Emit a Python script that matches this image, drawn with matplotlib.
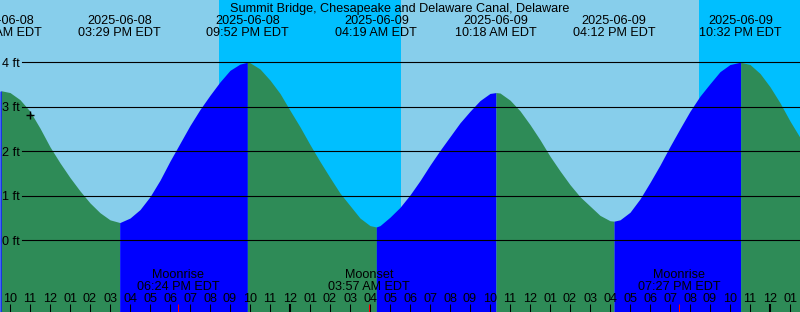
import matplotlib
matplotlib.use("Agg")
import matplotlib.pyplot as plt
import matplotlib.dates as mdates
import pandas as pd

plt.rcParams['font.family'] = ['Liberation Sans', 'DejaVu Sans']
plt.rcParams['font.size'] = 9.1

station = "Summit Bridge, Chesapeake and Delaware Canal, Delaware"

# high / low tides (ft)
tide_times = ["2025-06-08 09:34", "2025-06-08 15:29", "2025-06-08 21:52",
              "2025-06-09 04:19", "2025-06-09 10:18", "2025-06-09 16:12",
              "2025-06-09 22:32"]
tide_heights = [3.36, 0.40, 4.00, 0.30, 3.32, 0.43, 4.00]

# level every half hour from 10 AM on 06-08
reading_start = "2025-06-08 10:00"
reading_heights = [
    3.32, 3.16, 2.90, 2.52, 2.10, 1.74, 1.41, 1.11, 0.84, 0.62,
    0.46, 0.40, 0.50, 0.69, 0.98, 1.35, 1.78, 2.18, 2.58, 2.94,
    3.26, 3.56, 3.82, 3.96, 3.99, 3.85, 3.60, 3.30, 2.92, 2.55,
    2.15, 1.77, 1.41, 1.06, 0.78, 0.50, 0.33, 0.33, 0.52, 0.74,
    1.02, 1.34, 1.69, 2.02, 2.33, 2.64, 2.90, 3.14, 3.30, 3.31,
    3.15, 2.91, 2.60, 2.26, 1.89, 1.56, 1.25, 0.98, 0.77, 0.56,
    0.44, 0.46, 0.63, 0.93, 1.30, 1.69, 2.11, 2.51, 2.90, 3.24,
    3.52, 3.79, 3.95, 4.00, 3.95, 3.75, 3.45, 3.09, 2.68]

# window edges
edge_times = ["2025-06-08 09:30", "2025-06-10 01:30"]
edge_heights = [3.35, 2.31]

night_start = ["2025-06-08 20:28", "2025-06-09 20:28"]
night_end = ["2025-06-09 05:34", "2025-06-10 01:30"]

moon_names = ["Moonrise", "Moonset", "Moonrise"]
moon_times = ["2025-06-08 18:24", "2025-06-09 03:57", "2025-06-09 19:27"]

now_time = "2025-06-08 11:00"
now_height = 2.81

levels = [0, 1, 2, 3, 4]

day_col = '#87CEEB'
night_col = '#00BFFF'
rise_col = '#0000FF'
fall_col = '#2E8B57'

W, H = 800, 312


def num(s):
    return mdates.date2num(pd.Timestamp(s))


def fy(px):
    # pixel row -> axes fraction
    return 1 - px / H


readings = pd.Series(reading_heights,
                     index=pd.date_range(reading_start, periods=len(reading_heights), freq='30min'))
curve = pd.concat([pd.Series(tide_heights, index=pd.to_datetime(tide_times)),
                   pd.Series(edge_heights, index=pd.to_datetime(edge_times)),
                   readings])
curve = curve[~curve.index.duplicated()].sort_index()

hours = pd.date_range(reading_start, edge_times[1], freq='h')

fig = plt.figure(figsize=(W / 100, H / 100), dpi=100)
fig.patch.set_facecolor(day_col)
ax = fig.add_axes([0, 0, 1, 1])
ax.axis('off')
x_left, x_right = num(edge_times[0]), num(edge_times[1])
ax.set_xlim(x_left, x_right)
ax.set_ylim(-1.611, 5.40)

for a, b in zip(night_start, night_end):
    ax.axvspan(num(a), num(b), color=night_col, lw=0, zorder=0)

bounds = [edge_times[0]] + tide_times + [edge_times[1]]
for a, b in zip(bounds[:-1], bounds[1:]):
    seg = curve[pd.Timestamp(a):pd.Timestamp(b)]
    col = rise_col if seg.iloc[-1] > seg.iloc[0] else fall_col
    ax.fill_between(mdates.date2num(seg.index), seg.values, -2,
                    color=col, lw=0, zorder=1)

# depth lines
px_per_ft = 44.5
line_x0 = x_left + (x_right - x_left) * 22 / W
for lv in levels:
    ax.plot([line_x0, x_right], [lv, lv], color='black', lw=0.8, zorder=3)
    ax.text(2 / W, lv - 4.2 / px_per_ft, f"{lv} ft", transform=ax.get_yaxis_transform(),
            ha='left', va='baseline', zorder=4)

# title and tide labels
ax.text(0.5, fy(12), station, transform=ax.transAxes, ha='center', va='baseline')
xt = ax.get_xaxis_transform()
for t in tide_times:
    ts = pd.Timestamp(t)
    ax.text(num(t), fy(24), ts.strftime('%Y-%m-%d'), transform=xt,
            ha='center', va='baseline')
    ax.text(num(t), fy(36), ts.strftime('%I:%M %p EDT'), transform=xt,
            ha='center', va='baseline')

# hour ticks
for ts in hours:
    lw = 1.5 if ts.hour == 0 else 0.75
    ax.vlines(mdates.date2num(ts), 0, fy(304), transform=xt, color='black', lw=lw, zorder=4)
    ax.text(mdates.date2num(ts), fy(301.7), ts.strftime('%I'), transform=xt,
            ha='center', va='baseline', zorder=4)

# moon
for name, t in zip(moon_names, moon_times):
    ts = pd.Timestamp(t)
    ax.vlines(num(t), 0, fy(304), transform=xt, color='red', lw=0.75, zorder=5)
    ax.text(num(t), fy(278.3), name, transform=xt, ha='center', va='baseline', zorder=4)
    ax.text(num(t), fy(289.5), ts.strftime('%I:%M %p EDT'), transform=xt,
            ha='center', va='baseline', zorder=4)

ax.plot(num(now_time), now_height, marker='+', color='black', ms=6, mew=1, zorder=5)

fig.savefig('out.png', dpi=100, facecolor=day_col)
